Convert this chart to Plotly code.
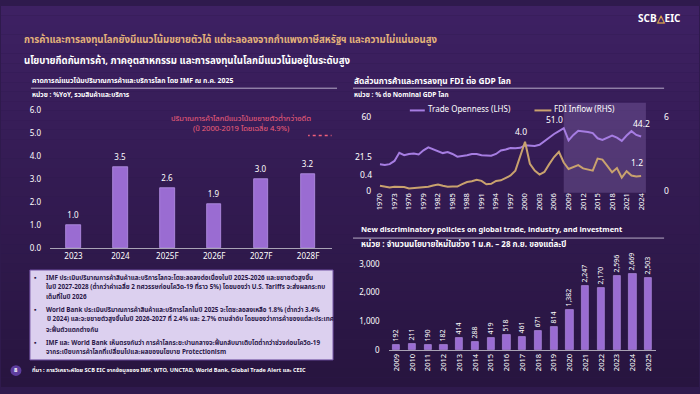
import plotly.graph_objects as go

W, H = 700, 394

# ---------------- DATA ----------------
imf_years = ["2023", "2024", "2025F", "2026F", "2027F", "2028F"]
imf_growth = [1.0, 3.5, 2.6, 1.9, 3.0, 3.2]
avg_2000_2019 = 4.9

years = list(range(1970, 2025))
trade_open = [21.5, 21.0, 21.7, 24.3, 30.9, 29.0, 30.0, 30.4, 29.6, 33.0,
              35.4, 34.0, 32.2, 30.7, 31.5, 30.0, 27.8, 28.3, 29.0, 30.0,
              30.0, 29.0, 29.0, 28.5, 30.0, 32.8, 33.6, 34.9, 34.6, 35.0,
              37.0, 36.5, 36.5, 37.5, 40.5, 43.3, 46.3, 48.6, 51.0, 41.0,
              45.5, 49.0, 48.6, 48.0, 47.0, 42.8, 41.5, 43.3, 45.0, 43.3,
              40.7, 45.0, 48.6, 45.5, 44.2]
fdi_inflow = [0.4, 0.32, 0.26, 0.32, 0.32, 0.3, 0.19, 0.21, 0.24, 0.26,
              0.32, 0.42, 0.5, 0.4, 0.32, 0.34, 0.34, 0.53, 0.71, 0.77,
              0.9, 0.8, 0.53, 0.56, 0.8, 0.85, 1.06, 1.24, 1.64, 2.83,
              4.0, 2.2, 1.64, 1.32, 1.53, 2.17, 2.75, 3.17, 2.3, 1.77,
              1.96, 2.09, 1.82, 1.74, 1.64, 2.62, 2.54, 2.03, 1.5, 1.85,
              1.06, 1.59, 1.24, 1.16, 1.2]
shade_start_year = 2008

policy_years = [str(y) for y in range(2009, 2026)]
policy_counts = [192, 211, 190, 182, 414, 288, 419, 518, 461, 671, 814,
                 1382, 2247, 2170, 2596, 2669, 2503]

# ---------------- STYLE ----------------
FONT = "Noto Sans Thai, Noto Sans, Open Sans, sans-serif"
WHITE = "#FFFFFF"
GOLD = "#E3B27A"
BAR = "#9A6CD2"
BAR_LINE = "#B894E8"
PURPLE_LINE = "#A67DE2"
FDI_COL = "#C9A26E"
PINK = "#F0607A"


def px(x):
    return x / W


def py(y):
    return 1 - y / H


fig = go.Figure()

# Left bar chart
fig.add_trace(go.Bar(
    x=imf_years, y=imf_growth, xaxis="x", yaxis="y",
    marker=dict(color=BAR, line=dict(color=BAR_LINE, width=0.8)),
    width=0.31, text=[f"{v:.1f}" for v in imf_growth], textposition="outside",
    textfont=dict(color=WHITE, size=8, family=FONT), cliponaxis=False,
    constraintext="none", showlegend=False, hoverinfo="skip"))

# Line chart
fig.add_trace(go.Scatter(
    x=years, y=trade_open, xaxis="x2", yaxis="y2", mode="lines",
    line=dict(color=PURPLE_LINE, width=2), name="Trade Openness (LHS)",
    showlegend=False))
fig.add_trace(go.Scatter(
    x=years, y=fdi_inflow, xaxis="x2", yaxis="y3", mode="lines",
    line=dict(color=FDI_COL, width=2), name="FDI Inflow (RHS)",
    showlegend=False))

# Bottom-right bar chart
fig.add_trace(go.Bar(
    x=policy_years, y=policy_counts, xaxis="x4", yaxis="y4",
    marker=dict(color=BAR, line=dict(color=BAR_LINE, width=0.6)),
    width=0.46, text=[f"{v:,}" for v in policy_counts], textposition="outside",
    textangle=-90, textfont=dict(color=WHITE, size=7, family=FONT),
    cliponaxis=False, constraintext="none", showlegend=False,
    hoverinfo="skip"))

shapes = []
# background gradient bands
top = (0x3E, 0x21, 0x63)
bot = (0x28, 0x15, 0x40)
N = 40
for i in range(N):
    t = i / (N - 1)
    c = tuple(int(top[k] + (bot[k] - top[k]) * t) for k in range(3))
    shapes.append(dict(type="rect", xref="paper", yref="paper",
                       x0=0, x1=1, y0=1 - (i + 1) / N, y1=1 - i / N,
                       fillcolor="rgb(%d,%d,%d)" % c, line=dict(width=0),
                       layer="below"))

# underlines of chart titles
for (x0, x1, y) in [(30, 337, 85), (353, 665, 85), (353, 665, 240)]:
    shapes.append(dict(type="line", xref="paper", yref="paper",
                       x0=px(x0), x1=px(x1), y0=py(y), y1=py(y),
                       line=dict(color="#D8D0E4", width=0.8)))

# average dotted line
shapes.append(dict(type="line", xref="x", yref="y", x0=imf_years[0],
                   x1=imf_years[-1], y0=avg_2000_2019, y1=avg_2000_2019,
                   line=dict(color=PINK, width=1.5, dash="dot")))

# shaded period in line chart
shapes.append(dict(type="rect", xref="x2", yref="paper",
                   x0=shade_start_year, x1=2025, y0=py(193), y1=py(100),
                   fillcolor="rgba(190,160,230,0.22)", line=dict(width=0),
                   layer="below"))

# custom legend symbols
shapes.append(dict(type="line", xref="paper", yref="paper", x0=px(410),
                   x1=px(425), y0=py(108), y1=py(108),
                   line=dict(color=PURPLE_LINE, width=2)))
shapes.append(dict(type="line", xref="paper", yref="paper", x0=px(535),
                   x1=px(552), y0=py(108), y1=py(108),
                   line=dict(color=FDI_COL, width=2)))

# bullet box
shapes.append(dict(type="rect", xref="paper", yref="paper", x0=px(29),
                   x1=px(333), y0=py(366), y1=py(273),
                   fillcolor="#DCD0EF", line=dict(color="#6E4FA0", width=1)))

# footer circle
shapes.append(dict(type="circle", xref="paper", yref="paper",
                   x0=px(9.5), x1=px(20.5), y0=py(382.5), y1=py(371.5),
                   fillcolor="#5E3D9E", line=dict(width=0)))

ann = []


def T(x, y, text, size=8, color=WHITE, xanchor="left", yanchor="middle",
      bold=False):
    if bold:
        text = "<b>" + text + "</b>"
    ann.append(dict(x=px(x), y=py(y), xref="paper", yref="paper", text=text,
                    showarrow=False, xanchor=xanchor, yanchor=yanchor,
                    font=dict(size=size, color=color, family=FONT)))


# header
T(684, 13, "SCB<span style='color:#E8B04A'>△</span>EIC", size=10,
  xanchor="right", bold=True)
T(21, 35, "การค้าและการลงทุนโลกยังมีแนวโน้มขยายตัวได้ แต่ชะลอลงจากกำแพงภาษีสหรัฐฯ และความไม่แน่นอนสูง",
  size=9.6, color=GOLD, bold=True)
T(21, 57, "นโยบายกีดกันการค้า, ภาคอุตสาหกรรม และการลงทุนในโลกมีแนวโน้มอยู่ในระดับสูง",
  size=9.6, color=WHITE, bold=True)

# left chart titles
T(29, 78, "คาดการณ์แนวโน้มปริมาณการค้าและบริการโลก โดย IMF ณ ก.ค. 2025", size=6.9,
  bold=True)
T(29, 92, "หน่วย : %YoY, รวมสินค้าและบริการ", size=6.6, bold=True)
T(241, 121.5, "ปริมาณการค้าโลกมีแนวโน้มขยายตัวต่ำกว่าอดีต<br>(ปี 2000-2019 โดยเฉลี่ย 4.9%)",
  size=7.6, color=PINK, xanchor="center")

# right top titles
T(352, 78, "สัดส่วนการค้าและการลงทุน FDI ต่อ GDP โลก", size=8.3, bold=True)
T(352, 92, "หน่วย : % ต่อ Nominal GDP โลก", size=6.6, bold=True)
T(426, 108, "Trade Openness (LHS)", size=8)
T(553, 108, "FDI Inflow (RHS)", size=8)

lab_font = dict(size=8.5, color=WHITE, family=FONT)
# line data labels
ann.append(dict(x=years[0], y=trade_open[0], xref="x2", yref="y2",
                text=f"{trade_open[0]:.1f}", showarrow=False, xanchor="right",
                xshift=-6, yanchor="bottom", yshift=-2, font=lab_font))
ann.append(dict(x=years[0], y=fdi_inflow[0], xref="x2", yref="y3",
                text=f"{fdi_inflow[0]:.1f}", showarrow=False,
                xanchor="right", xshift=-6, yanchor="bottom", yshift=2,
                font=lab_font))
i2000 = years.index(2000)
ann.append(dict(x=years[i2000], y=fdi_inflow[i2000], xref="x2", yref="y3",
                text=f"{fdi_inflow[i2000]:.1f}", showarrow=False,
                xanchor="center", xshift=-4, yanchor="bottom", yshift=1,
                font=lab_font))
i2008 = years.index(2008)
ann.append(dict(x=years[i2008], y=trade_open[i2008], xref="x2", yref="y2",
                text=f"{trade_open[i2008]:.1f}", showarrow=False,
                xanchor="center", xshift=-9, yanchor="bottom", yshift=-1,
                font=lab_font))
ann.append(dict(x=years[-1], y=trade_open[-1], xref="x2", yref="y2",
                text=f"{trade_open[-1]:.1f}", showarrow=False,
                xanchor="center", yanchor="bottom", yshift=4, font=lab_font))
ann.append(dict(x=years[-1], y=fdi_inflow[-1], xref="x2", yref="y3",
                text=f"{fdi_inflow[-1]:.1f}", showarrow=False,
                xanchor="center", xshift=-4, yanchor="bottom", yshift=4,
                font=lab_font))

# bottom right titles
T(359, 231, "New discriminatory policies on global trade, industry, and investment",
  size=7.5, bold=True)
T(359, 247, "หน่วย : จำนวนนโยบายใหม่ในช่วง 1 ม.ค. – 28 ก.ย. ของแต่ละปี", size=8.0,
  bold=True)

# bullets
DARK = "#2A1848"
bullets = [
    (281, "IMF ประเมินปริมาณการค้าสินค้าและบริการโลกจะโตชะลอลงต่อเนื่องในปี 2025-2026 และขยายตัวสูงขึ้น", True),
    (291, "ในปี 2027-2028 (ต่ำกว่าค่าเฉลี่ย 2 ทศวรรษก่อนโควิด-19 ที่ราว 5%) โดยมองว่า U.S. Tariffs จะส่งผลกระทบ", False),
    (301, "เต็มที่ในปี 2026", False),
    (314, "World Bank ประเมินปริมาณการค้าสินค้าและบริการโลกในปี 2025 จะโตชะลอลงเหลือ 1.8% (ต่ำกว่า 3.4%", True),
    (324, "ปี 2024) และจะขยายตัวสูงขึ้นในปี 2026-2027 ที่ 2.4% และ 2.7% ตามลำดับ โดยมองว่าการค้าของแต่ละประเทศ", False),
    (335, "จะฟื้นตัวแตกต่างกัน", False),
    (348, "IMF และ World Bank เห็นตรงกันว่า การค้าโลกระยะปานกลางจะฟื้นกลับมาเติบโตต่ำกว่าช่วงก่อนโควิด-19", True),
    (358, "จากระเบียบการค้าโลกที่เปลี่ยนไปและผลของนโยบาย Protectionism", False),
]
for y, txt, first in bullets:
    if first:
        T(35, y, "▪", size=7, color=DARK, xanchor="center")
    T(43, y, txt, size=6.3, color=DARK, bold=True)

# footer
T(15, 377, "8", size=6, color=WHITE, xanchor="center", bold=True)
T(29, 377, "ที่มา : การวิเคราะห์โดย SCB EIC จากข้อมูลของ IMF, WTO, UNCTAD, World Bank, Global Trade Alert และ CEIC",
  size=5.6, color=WHITE, bold=True)

tickfont = dict(size=8, color=WHITE, family=FONT)

fig.update_layout(
    width=W, height=H, margin=dict(l=0, r=0, t=0, b=0),
    paper_bgcolor="#2F1A4D", plot_bgcolor="rgba(0,0,0,0)",
    font=dict(family=FONT, color=WHITE), showlegend=False,
    shapes=shapes, annotations=ann, bargap=0,
    xaxis=dict(domain=[px(49.2), px(331.5)], type="category",
               range=[-0.5, 5.5], showgrid=False, showline=True,
               linecolor="#A9A3B5", linewidth=1, ticks="",
               tickfont=tickfont, anchor="y", fixedrange=True),
    yaxis=dict(domain=[py(250.3), py(107.7)], range=[0, 6], dtick=1,
               tickformat=".1f", showgrid=False, zeroline=False,
               tickfont=tickfont, anchor="x", ticklabelstandoff=8),
    xaxis2=dict(domain=[px(375.2), px(646.8)], range=[1969, 2025],
                tickvals=list(range(1970, 2025, 3)), tickangle=-90,
                showgrid=False, zeroline=False, showline=False,
                tickfont=dict(size=7.5, color=WHITE, family=FONT),
                anchor="y2"),
    yaxis2=dict(domain=[py(191), py(115)], range=[0, 60], tickvals=[0, 60],
                showgrid=False, zeroline=False,
                tickfont=dict(size=8.5, color=WHITE, family=FONT),
                anchor="x2", ticklabelstandoff=3),
    yaxis3=dict(domain=[py(191), py(115)], range=[0, 6], tickvals=[0, 6],
                overlaying="y2", side="right", showgrid=False,
                zeroline=False, tickfont=dict(size=8.5, color=WHITE, family=FONT),
                anchor="x2", ticklabelstandoff=17),
    xaxis4=dict(domain=[px(388.8), px(657.2)], type="category",
                range=[-0.5, 16.5], tickangle=-90, showgrid=False,
                showline=True, linecolor="#A9A3B5", linewidth=1,
                tickfont=dict(size=7.5, color=WHITE, family=FONT),
                anchor="y4"),
    yaxis4=dict(domain=[py(355.7), py(266.7)], range=[0, 3000], dtick=1000,
                tickformat=",", showgrid=False, zeroline=False,
                tickfont=tickfont, anchor="x4", ticklabelstandoff=8),
)

fig.write_html("out.html", config={"displayModeBar": False},
               post_script="document.body.style.margin='0';"
                           "document.body.style.background='#281540';")
